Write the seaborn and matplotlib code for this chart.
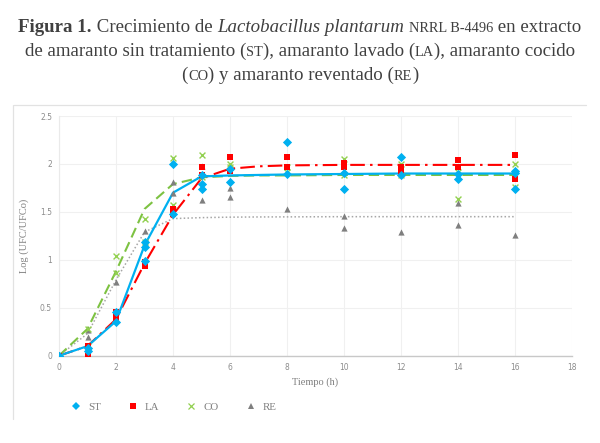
import matplotlib
matplotlib.use("Agg")
import matplotlib.pyplot as plt
import seaborn as sns
import pandas as pd
from matplotlib.lines import Line2D
from matplotlib.offsetbox import TextArea, HPacker, AnchoredOffsetbox

# ---------------- data ----------------
series = ["ST", "LA", "CO", "RE"]

st_t = [0, 0, 1, 1, 2, 2, 3, 3, 3, 4, 4, 5, 5, 5, 6, 6, 8, 8, 10, 10, 12, 12, 14, 14, 16, 16, 16]
st_v = [0, 0, 0.08, 0.05, 0.46, 0.35, 1.19, 1.13, 0.99, 2.0, 1.48, 1.88, 1.79, 1.74, 1.95, 1.81,
        2.23, 1.90, 1.91, 1.74, 2.07, 1.88, 1.90, 1.84, 1.93, 1.91, 1.74]

la_t = [0, 1, 1, 2, 2, 2, 3, 3, 4, 4, 5, 5, 6, 6, 8, 8, 10, 10, 12, 12, 14, 14, 16, 16]
la_v = [0, 0.10, 0.0, 0.46, 0.42, 0.39, 0.98, 0.94, 1.53, 1.48, 1.88, 1.97, 2.07, 1.93,
        2.07, 1.97, 2.01, 1.97, 1.97, 1.92, 2.04, 1.97, 2.09, 1.84]

co_t = [0, 1, 1, 2, 2, 3, 3, 4, 4, 5, 5, 6, 6, 8, 8, 10, 10, 12, 12, 14, 14, 16, 16]
co_v = [0, 0.28, 0.10, 1.04, 0.86, 1.43, 1.19, 2.06, 1.57, 2.09, 1.86, 2.0, 1.97,
        1.97, 1.92, 2.05, 1.88, 2.0, 1.88, 1.92, 1.63, 2.0, 1.76]

re_t = [0, 1, 1, 2, 3, 3, 4, 4, 5, 5, 6, 6, 8, 10, 10, 12, 14, 14, 16]
re_v = [0, 0.27, 0.19, 0.77, 1.30, 1.19, 1.81, 1.70, 1.98, 1.62, 1.75, 1.66,
        1.53, 1.46, 1.33, 1.29, 1.59, 1.36, 1.26]

# fitted curves
fit_t = [0, 1, 2, 3, 4, 5, 6, 7, 8, 10, 12, 14, 16]
st_fit = [0, 0.10, 0.36, 1.15, 1.70, 1.87, 1.88, 1.885, 1.89, 1.895, 1.90, 1.90, 1.90]
la_fit = [0, 0.10, 0.38, 0.96, 1.47, 1.85, 1.95, 1.975, 1.985, 1.99, 1.99, 1.99, 1.99]
co_fit = [0, 0.28, 0.88, 1.53, 1.79, 1.86, 1.875, 1.88, 1.88, 1.885, 1.885, 1.885, 1.885]
re_fit = [0, 0.23, 0.79, 1.29, 1.43, 1.44, 1.445, 1.447, 1.448, 1.45, 1.45, 1.45, 1.45]

x_ticks = [0, 2, 4, 6, 8, 10, 12, 14, 16, 18]
y_ticks = [0, 0.5, 1, 1.5, 2, 2.5]
y_tick_labels = ["0", "0.5", "1", "1.5", "2", "2.5"]

# ---------------- styling ----------------
colors = {"ST": "#00B0F0", "LA": "#FF0000", "CO": "#92D050", "RE": "#7F7F7F"}
line_colors = {"ST": "#00B0F0", "LA": "#FF0000", "CO": "#7DC242", "RE": "#A6A6A6"}
markers = {"ST": "D", "LA": "s", "CO": "x", "RE": "^"}
msizes = {"ST": 22, "LA": 20, "CO": 18, "RE": 20}
dashes = {"ST": "-", "LA": (0, (7, 2.5, 1.2, 2.5)), "CO": (0, (5, 2.5)), "RE": (0, (1, 1.5))}
lwidths = {"ST": 1.6, "LA": 1.5, "CO": 1.5, "RE": 1.1}

sns.set_theme(style="white")
plt.rcParams["font.family"] = ["DejaVu Sans"]

fig = plt.figure(figsize=(6, 4.43), dpi=100)
ax = fig.add_axes([59 / 600, 1 - 355.7 / 443, (572 - 59) / 600, (355.7 - 116) / 443])

pts = {"ST": (st_t, st_v), "LA": (la_t, la_v), "CO": (co_t, co_v), "RE": (re_t, re_v)}
fits = {"ST": st_fit, "LA": la_fit, "CO": co_fit, "RE": re_fit}

pts_df = pd.concat([pd.DataFrame({"t": pts[s][0], "v": pts[s][1], "serie": s}) for s in series])
fit_df = pd.concat([pd.DataFrame({"t": fit_t, "v": fits[s], "serie": s}) for s in series])

for s in ["RE", "CO", "LA", "ST"]:
    d = fit_df[fit_df.serie == s]
    sns.lineplot(data=d, x="t", y="v", ax=ax, color=line_colors[s], lw=lwidths[s],
                 linestyle=dashes[s], estimator=None, sort=False, legend=False, zorder=2)

for s in ["RE", "CO", "LA", "ST"]:
    d = pts_df[pts_df.serie == s]
    if markers[s] == "x":
        sns.scatterplot(data=d, x="t", y="v", ax=ax, color=colors[s], marker="x",
                        s=msizes[s], linewidth=1.0, legend=False, zorder=3)
    else:
        sns.scatterplot(data=d, x="t", y="v", ax=ax, color=colors[s], marker=markers[s],
                        s=msizes[s], linewidth=0, legend=False, zorder=3)

ax.set_xlim(0, 18)
ax.set_ylim(0, 2.5)
ax.set_xticks(x_ticks)
ax.set_yticks(y_ticks)
ax.set_yticklabels(y_tick_labels)
ax.grid(True, color="#F0F0F0", lw=0.8)
ax.set_axisbelow(True)
for sp in ["top", "right"]:
    ax.spines[sp].set_visible(False)
ax.spines["left"].set_color("#EAEAEA")
ax.spines["left"].set_linewidth(0.8)
ax.spines["bottom"].set_color("#C8C8C8")
ax.spines["bottom"].set_linewidth(1.0)
ax.tick_params(axis="both", length=0, labelsize=5.5, labelcolor="#8C8C8C", pad=5)

ax.set_xlabel("Tiempo (h)", family="Liberation Serif", fontsize=7.5, color="#7F7F7F", labelpad=4)
ax.set_ylabel("Log (UFC/UFCo)", family="Liberation Serif", fontsize=7.5, color="#7F7F7F", labelpad=8)

# frame lines (top and left) of the chart area
fig.add_artist(Line2D([14 / 600, 586 / 600], [1 - 105 / 443, 1 - 105 / 443], color="#E2E2E2", lw=0.9))
fig.add_artist(Line2D([13 / 600, 13 / 600], [1 - 105 / 443, 1 - 419 / 443], color="#E2E2E2", lw=0.9))

# legend
handles = [Line2D([], [], ls="none", marker=markers[s], color=colors[s],
                  markersize=4.5 if s != "CO" else 4, markeredgewidth=0 if s != "CO" else 0.9)
           for s in series]
leg = fig.legend(handles, series, loc="center left", bbox_to_anchor=(60 / 600, 1 - 407 / 443),
                 ncol=4, frameon=False, handlelength=1.2, handletextpad=0.5, columnspacing=2.35,
                 prop={"family": "Liberation Serif", "size": 7.8})
for t in leg.get_texts():
    t.set_color("#7F7F7F")

# title with small caps emulation
FS = 13.6
SC = 10.4
col = "#404040"
serif = "Liberation Serif"


def ta(txt, size=FS, weight="normal", style="normal"):
    return TextArea(txt, textprops=dict(family=serif, size=size, weight=weight, style=style, color=col))


lines = [
    [ta("Figura 1.", weight="bold"), ta(" Crecimiento de "), ta("Lactobacillus plantarum", style="italic"),
     ta(" "), ta("NRRL B-4496", size=SC), ta(" en extracto")],
    [ta("de amaranto sin tratamiento ("), ta("ST", size=SC), ta("), amaranto lavado ("), ta("LA", size=SC),
     ta("), amaranto cocido")],
    [ta("("), ta("CO", size=SC), ta(") y amaranto reventado ("), ta("RE", size=SC), ta(")")],
]
ys = [1 - 27 / 443, 1 - 51 / 443, 1 - 75 / 443]
for parts, y in zip(lines, ys):
    box = HPacker(children=parts, align="baseline", pad=0, sep=0)
    anc = AnchoredOffsetbox(loc="center", child=box, pad=0, frameon=False,
                            bbox_to_anchor=(0.5, y), bbox_transform=fig.transFigure, borderpad=0)
    fig.add_artist(anc)

fig.savefig("out.png", dpi=100)
